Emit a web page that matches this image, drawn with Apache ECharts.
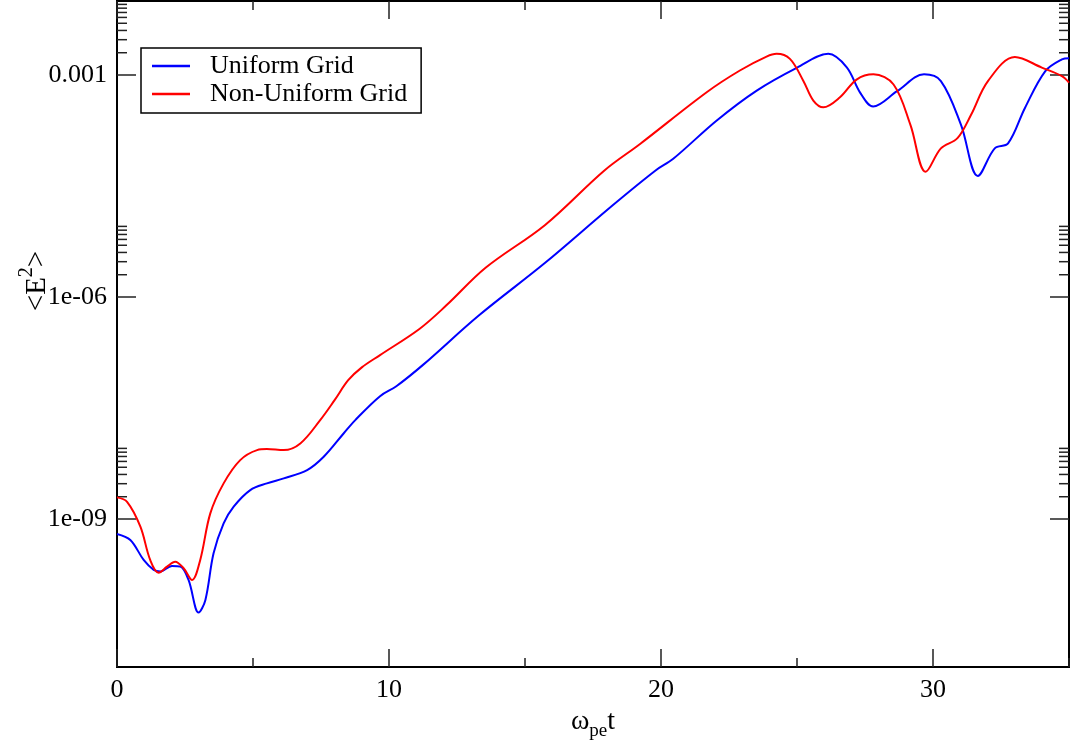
<!DOCTYPE html>
<html>
<head>
<meta charset="utf-8">
<script src="https://cdn.jsdelivr.net/npm/echarts@6.0.0/dist/echarts.min.js"></script>
<style>
  html, body { margin: 0; padding: 0; background: #fff; }
  #chart { width: 1073px; height: 740px; }
</style>
</head>
<body>
<div id="chart"></div>
<script>
// time values (omega_pe t) and <E^2>
var uniformT = [0, 0.49, 0.98, 1.35, 1.59, 2.02, 2.33, 2.63, 3.0, 3.25, 3.55, 3.92, 4.29, 4.9, 5.51, 6.13, 6.99, 7.6, 8.33, 8.76, 9.67, 10.27, 11.25, 13.3, 15.74, 18.16, 19.8, 20.45, 22.05, 23.52, 24.99, 26.15, 26.83, 27.32, 27.8, 28.68, 29.67, 30.29, 31.03, 31.65, 32.27, 32.76, 33.38, 34.13, 34.74, 35];
var uniformE = [6.28e-10, 5.21e-10, 2.8e-10, 2.05e-10, 1.95e-10, 2.32e-10, 2.27e-10, 1.5e-10, 5.43e-11, 8.07e-11, 3.44e-10, 8.75e-10, 1.47e-9, 2.46e-9, 3.03e-9, 3.54e-9, 4.58e-9, 6.93e-9, 1.43e-8, 2.17e-8, 4.57e-8, 6.23e-8, 1.21e-7, 5.62e-7, 2.9e-6, 1.66e-5, 5.13e-5, 7.38e-5, 2.43e-4, 6.16e-4, 1.25e-3, 1.93e-3, 1.27e-3, 5.78e-4, 3.75e-4, 6.04e-4, 1.02e-3, 8.28e-4, 2.12e-4, 4.33e-5, 1.02e-4, 1.19e-4, 3.59e-4, 1.13e-3, 1.63e-3, 1.69e-3];

var nonUniformT = [0, 0.37, 0.86, 1.22, 1.53, 1.84, 2.14, 2.45, 2.76, 3.06, 3.43, 3.92, 4.53, 5.15, 5.51, 6.13, 6.74, 7.47, 8.0, 8.5, 9.0, 9.67, 11.13, 12.1, 13.55, 15.74, 17.92, 19.23, 21.68, 22.9, 23.88, 24.25, 24.74, 25.23, 25.6, 25.97, 26.58, 27.19, 27.81, 28.55, 29.17, 29.73, 30.29, 30.9, 31.4, 32.02, 33.01, 34.0, 34.74, 35];
var nonUniformE = [1.96e-9, 1.71e-9, 7.87e-10, 2.8e-10, 1.88e-10, 2.27e-10, 2.65e-10, 2.16e-10, 1.5e-10, 2.8e-10, 1.19e-9, 3.03e-9, 6.25e-9, 8.53e-9, 8.81e-9, 8.53e-9, 1.05e-8, 2.17e-8, 4.04e-8, 7.51e-8, 1.12e-7, 1.64e-7, 3.73e-7, 7.65e-7, 2.48e-6, 9.42e-6, 5.13e-5, 1.17e-4, 5.85e-4, 1.15e-3, 1.77e-3, 1.93e-3, 1.65e-3, 8.39e-4, 4.51e-4, 3.66e-4, 5.0e-4, 8.67e-4, 1.02e-3, 7.44e-4, 2.12e-4, 4.91e-5, 1.02e-4, 1.4e-4, 2.9e-4, 8.28e-4, 1.75e-3, 1.26e-3, 9.66e-4, 7.89e-4];

var seriesNames = ['Uniform Grid', 'Non-Uniform Grid'];

// y axis ticks (major every 3 decades, minor 2..9 above each major)
var yTickValues = [1e-9, 1e-6, 1e-3];
var yTickLabels = ['1e-09', '1e-06', '0.001'];
var minorFactors = [2, 3, 4, 5, 6, 7, 8, 9];

var FONT = 'Liberation Serif';

function zip(t, e) {
  return t.map(function (v, i) { return [v, e[i]]; });
}

var tickData = [];
yTickValues.forEach(function (v) {
  tickData.push([0, v, 1]);
  minorFactors.forEach(function (f) { tickData.push([0, v * f, 0]); });
});

var myChart = echarts.init(document.getElementById('chart'));

var xBase = {
  type: 'value', min: 0, max: 35,
  axisLine: { show: false },
  splitLine: { show: false },
  axisLabel: { show: false }
};

var option = {
  animation: false,
  backgroundColor: '#fff',
  grid: {
    left: 117, right: 4, top: 1, bottom: 73,
    outerBoundsMode: 'none',
    containLabel: false,
    show: true, borderColor: '#000', borderWidth: 2, backgroundColor: 'transparent'
  },
  legend: {
    data: seriesNames,
    orient: 'vertical',
    left: 141, top: 48,
    icon: 'rect',
    itemWidth: 38, itemHeight: 2.5,
    itemGap: 0,
    padding: [4, 14, 5, 11],
    borderColor: '#000', borderWidth: 1.5,
    textStyle: { fontFamily: FONT, fontSize: 26, color: '#000', lineHeight: 28, padding: [0, 0, 0, 15] }
  },
  xAxis: [
    Object.assign({}, xBase, {
      position: 'bottom', interval: 10,
      axisTick: { inside: true, length: 18, lineStyle: { color: '#222', width: 1.5 } },
      axisLabel: {
        show: true, margin: 10, showMaxLabel: false,
        fontFamily: FONT, fontSize: 26, color: '#000',
        formatter: function (v) { return v % 10 === 0 ? String(v) : ''; }
      },
      name: '{a|ω}{b|pe}{a|t}',
      nameLocation: 'middle', nameGap: 33,
      nameTextStyle: {
        rich: {
          a: { fontFamily: FONT, fontSize: 28, color: '#000', lineHeight: 38, verticalAlign: 'middle' },
          b: { fontFamily: FONT, fontSize: 19, color: '#000', lineHeight: 19, verticalAlign: 'bottom' }
        }
      }
    }),
    Object.assign({}, xBase, {
      position: 'bottom', interval: 5,
      axisTick: { inside: true, length: 9, lineStyle: { color: '#222', width: 1.5 } }
    }),
    Object.assign({}, xBase, {
      position: 'top', interval: 10,
      axisTick: { inside: true, length: 18, lineStyle: { color: '#222', width: 1.5 } }
    }),
    Object.assign({}, xBase, {
      position: 'top', interval: 5,
      axisTick: { inside: true, length: 9, lineStyle: { color: '#222', width: 1.5 } }
    })
  ],
  yAxis: [{
    type: 'log', logBase: 10, min: 1e-11, max: 1e-2, interval: 1,
    axisLine: { show: false },
    axisTick: { show: false },
    splitLine: { show: false },
    axisLabel: {
      margin: 10, fontFamily: FONT, fontSize: 26, color: '#000',
      formatter: function (v) {
        for (var i = 0; i < yTickValues.length; i++) {
          if (Math.abs(Math.log10(v) - Math.log10(yTickValues[i])) < 1e-6) return yTickLabels[i];
        }
        return '';
      }
    },
    name: '{a|<E}{s|2}{a|>}',
    nameLocation: 'middle', nameGap: 60,
    nameMoveOverlap: false,
    nameTextStyle: {
      padding: [0, 0, 0, 106],
      rich: {
        a: { fontFamily: FONT, fontSize: 29, color: '#000', lineHeight: 40, verticalAlign: 'middle' },
        s: { fontFamily: FONT, fontSize: 20, color: '#000', lineHeight: 20, verticalAlign: 'top' }
      }
    }
  }],
  series: [
    {
      name: seriesNames[0], type: 'line', xAxisIndex: 0, yAxisIndex: 0,
      data: zip(uniformT, uniformE),
      showSymbol: false, smooth: 0.35,
      itemStyle: { color: '#0000ff' },
      lineStyle: { color: '#0000ff', width: 2 }
    },
    {
      name: seriesNames[1], type: 'line', xAxisIndex: 0, yAxisIndex: 0,
      data: zip(nonUniformT, nonUniformE),
      showSymbol: false, smooth: 0.35,
      itemStyle: { color: '#ff0000' },
      lineStyle: { color: '#ff0000', width: 2 }
    },
    {
      // y tick marks on the left and right frame
      type: 'custom', xAxisIndex: 0, yAxisIndex: 0,
      silent: true,
      encode: { x: 0, y: 1 },
      data: tickData,
      renderItem: function (params, api) {
        var v = api.value(1);
        var len = api.value(2) === 1 ? 19 : 10;
        var pl = api.coord([0, v]);
        var pr = api.coord([35, v]);
        var st = { stroke: '#222', lineWidth: 1.5 };
        return {
          type: 'group',
          children: [
            { type: 'line', shape: { x1: pl[0], y1: pl[1], x2: pl[0] + len, y2: pl[1] }, style: st },
            { type: 'line', shape: { x1: pr[0] - len, y1: pr[1], x2: pr[0], y2: pr[1] }, style: st }
          ]
        };
      }
    }
  ]
};

myChart.setOption(option);
</script>
</body>
</html>
